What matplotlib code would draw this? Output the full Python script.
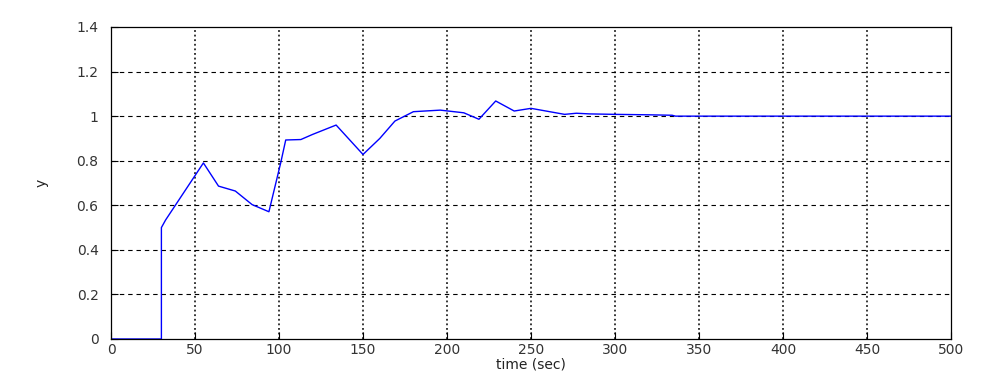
import matplotlib
matplotlib.use("Agg")
import matplotlib.pyplot as plt

t = [0, 30, 30, 32.5, 55, 64, 74, 84, 94, 101, 104, 113, 120, 134, 150, 160, 169,
     180, 196, 210, 219, 229, 240, 250, 270, 277, 285, 300, 320, 334, 336, 500]
y = [0, 0, 0.50, 0.534, 0.79, 0.686, 0.664, 0.603, 0.571, 0.79, 0.893, 0.895, 0.918, 0.96, 0.828, 0.90, 0.978,
     1.02, 1.027, 1.015, 0.986, 1.068, 1.023, 1.035, 1.008, 1.013, 1.01, 1.008, 1.006, 1.004, 1.0, 1.0]

xticks = [0, 50, 100, 150, 200, 250, 300, 350, 400, 450, 500]
yticks = [0, 0.2, 0.4, 0.6, 0.8, 1.0, 1.2, 1.4]
ytick_labels = ["0", "0.2", "0.4", "0.6", "0.8", "1", "1.2", "1.4"]

fig = plt.figure(figsize=(9.95, 3.91), dpi=100)
ax = fig.add_axes([111/995, 52/391, 840/995, 312/391])
ax.plot(t, y, color="#0000ff", lw=1.0)
ax.set_xlim(0, 500)
ax.set_ylim(0, 1.4)
ax.set_xticks(xticks)
ax.set_xticklabels([str(v) for v in xticks])
ax.set_yticks(yticks)
ax.set_yticklabels(ytick_labels)
for v in xticks[1:-1]:
    ax.axvline(v, color="black", ls=(0, (1.2, 1.8)), lw=1.1, zorder=0)
for v in yticks[1:-1]:
    ax.axhline(v, color="black", ls=(0, (4, 3.5)), lw=0.8, zorder=0)
ax.tick_params(direction="in", length=5, width=0.8, labelsize=10,
               top=False, right=False, colors="black", labelcolor="#333333")
ax.tick_params(axis="x", pad=3)
ax.tick_params(axis="y", pad=9)
for s in ax.spines.values():
    s.set_linewidth(0.9)
ax.set_xlabel("time (sec)", fontsize=10, labelpad=0, color="#222222")
ax.set_ylabel("y", fontsize=10, labelpad=20, color="#222222")
fig.savefig("out.png", dpi=100)
